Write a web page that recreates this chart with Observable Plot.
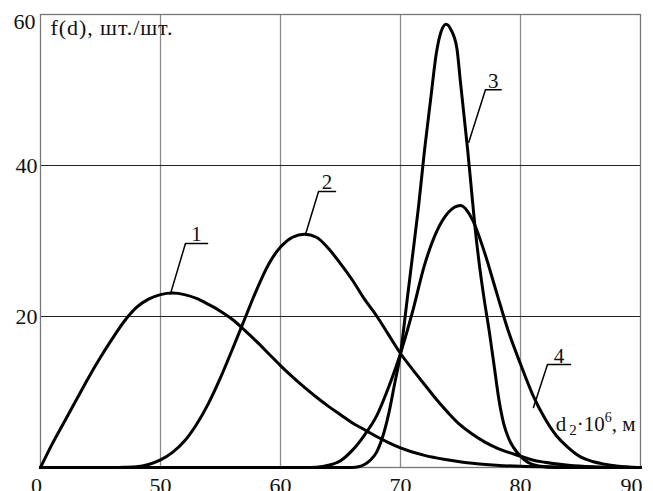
<!DOCTYPE html>
<html><head><meta charset="utf-8">
<script src="https://cdn.jsdelivr.net/npm/d3@7"></script>
<script src="https://cdn.jsdelivr.net/npm/@observablehq/plot@0.6"></script>
<style>body{margin:0;background:#fff} svg{display:block}</style>
</head><body><div id="chart"></div>
<script>
// ---- data ----
const d1 = [40,41,42,43,44,45,46,47,48,49,50,51,52,53,54,55,56,57,58,59,60,61,62,63,64,65,66,67,68,69,70,72,74,76,78,80,83,86,90];
const f1 = [0,3.2,6.1,9.0,11.9,14.6,17.1,19.4,21.2,22.3,22.9,23.1,22.9,22.4,21.6,20.7,19.6,18.2,16.7,15.1,13.5,12.0,10.6,9.3,8.1,7.0,5.9,5.0,4.1,3.3,2.6,1.6,1.0,0.55,0.3,0.15,0.07,0.02,0];

const d2 = [40,46,47,48,49,50,51,52,53,54,55,56,57,58,59,60,61,62,63,64,65,66,67,68,69,70,71,72,73,74,75,76,77,78,79,80,81,82,84,86,88,90];
const f2 = [0,0,0.03,0.1,0.4,1.0,2.0,3.5,5.7,8.5,11.9,15.7,19.6,23.5,26.9,29.2,30.5,30.9,30.5,29.0,27.0,24.8,22.3,20.1,17.6,15.1,13.0,11.0,9.0,7.2,5.6,4.4,3.4,2.6,2.0,1.5,1.0,0.7,0.3,0.1,0.03,0];

const d3v = [40,66,66.5,67,67.5,68,68.5,69,69.5,70,70.5,71,71.5,72,72.5,73,73.4,73.8,74.2,74.7,75,75.3,75.6,75.9,76.2,76.6,77,77.4,77.8,78.2,78.6,79,79.4,80,80.6,81.5,83,90];
const f3 = [0,0,0.1,0.4,1.0,2.0,4.0,7.0,11.0,15.1,21.5,28,34.5,42,48.6,55,57.8,58.7,58.0,55.5,51,46.5,42,37,32,26.5,22,18,13.5,9,5.8,3.9,2.7,1.5,0.7,0.2,0,0];

const d4 = [40,62,63,64,65,66,67,68,69,70,71,72,73,74,75,76,77,78,79,80,81,82,83,84,85,86,87,88,89,90];
const f4 = [0,0,0.05,0.3,0.9,2.3,4.3,6.8,10.6,15.1,20.6,26.8,31.2,33.8,34.7,32.8,28.5,23.2,18.0,13.7,9.7,6.6,4.2,2.6,1.4,0.8,0.45,0.2,0.07,0];

const curveIds = ["1","2","3","4"];

// curve labels: leader attach point, shelf start/end (data units)
const attachD = [50.83, 62.08, 75.69, 81.08];
const attachF = [23.0, 30.86, 43.09, 7.95];
const shelfD0 = [52.08, 63.17, 77.08, 82.25];
const shelfD1 = [53.92, 64.58, 78.39, 84.17];
const shelfF  = [29.67, 36.56, 50.03, 13.64];

// ticks
const xTicks = [40,50,60,70,80,90];
const xTickLabels = ["0","50","60","70","80","90"];
const yTicks = [20,40,60];
const yTickLabels = ["20","40","60"];

const yTitle = "f(d), шт./шт.";
const xTitleParts = ["d","2","·10","6",", м"];

// ---- build tables ----
const rows = [];
[[d1,f1],[d2,f2],[d3v,f3],[d4,f4]].forEach(([ds,fs],k)=>
  ds.forEach((d,i)=>rows.push({curve: curveIds[k], d, f: fs[i]})));
const leaders = curveIds.flatMap((id,i)=>[
  {id, d: attachD[i], f: attachF[i]},
  {id, d: shelfD0[i], f: shelfF[i]},
  {id, d: shelfD1[i], f: shelfF[i]}
]);
const labels = curveIds.map((id,i)=>({id, d:(shelfD0[i]+shelfD1[i])/2, f: shelfF[i]}));
const xFmt = new Map(xTicks.map((t,i)=>[t,xTickLabels[i]]));
const yFmt = new Map(yTicks.map((t,i)=>[t,yTickLabels[i]]));
const xTitle = xTitleParts.join("");

const font = "'Liberation Serif', 'Times New Roman', serif";

const plot = Plot.plot({
  width: 653, height: 491,
  marginLeft: 40, marginRight: 13, marginTop: 14, marginBottom: 24,
  style: {fontFamily: font, fontSize: "22px", color: "#111", background: "white", overflow: "visible"},
  x: {domain: [40, 90]},
  y: {domain: [0, 60]},
  marks: [
    Plot.gridX(xTicks.slice(1,-1), {stroke: "#8a8a8a", strokeOpacity: 1, strokeWidth: 1.3}),
    Plot.gridY(yTicks.slice(0,-1), {stroke: "#222", strokeOpacity: 1, strokeWidth: 1}),
    Plot.frame({stroke: "#777", strokeWidth: 1.3}),
    Plot.axisY(yTicks.slice(0,-1), {tickSize: 0, tickPadding: 3, tickFormat: d=>yFmt.get(d), label: null, fontSize: 22}),
    Plot.axisY(yTicks.slice(-1), {tickSize: 0, tickPadding: 5, dy: 7, tickFormat: d=>yFmt.get(d), label: null, fontSize: 22}),
    Plot.axisX(xTicks.slice(1,-1), {tickSize: 0, tickPadding: 10, tickFormat: d=>xFmt.get(d), label: null, fontSize: 22}),
    Plot.axisX(xTicks.slice(0,1), {tickSize: 0, tickPadding: 10, dx: -4, tickFormat: d=>xFmt.get(d), label: null, fontSize: 22}),
    Plot.axisX(xTicks.slice(-1), {tickSize: 0, tickPadding: 10, dx: -9, tickFormat: d=>xFmt.get(d), label: null, fontSize: 22}),
    Plot.line(rows, {x: "d", y: "f", z: "curve", stroke: "#000", strokeWidth: 3, curve: "monotone-x"}),
    Plot.line(leaders, {x: "d", y: "f", z: "id", stroke: "#000", strokeWidth: 1.5}),
    Plot.text(labels, {x: "d", y: "f", text: "id", lineAnchor: "bottom", dy: -2, fontSize: 21, fill: "#111"}),
    Plot.text([yTitle], {frameAnchor: "top-left", dx: 10, dy: 5, lineAnchor: "top", textAnchor: "start", fontSize: 22, fill: "#111"}),
    Plot.text([xTitle], {frameAnchor: "bottom-right", dx: -5, dy: -37, lineAnchor: "bottom", textAnchor: "end", fontSize: 21, fill: "#111"})
  ]
});

// widen the y title a little (the reference's Cyrillic glyphs are wider)
d3.select(plot).selectAll("text").filter(function(){ return this.textContent === yTitle; })
  .attr("textLength", 122).attr("lengthAdjust", "spacing");

// rich formatting of the x title (subscript / superscript)
d3.select(plot).selectAll("text").filter(function(){ return this.textContent === xTitle; }).each(function(){
  const t = d3.select(this);
  t.text(null);
  t.append("tspan").text(xTitleParts[0]);
  t.append("tspan").attr("font-size", 15).attr("dx", 3).attr("dy", 4).text(xTitleParts[1]);
  t.append("tspan").attr("dy", -4).text(xTitleParts[2]);
  t.append("tspan").attr("font-size", 14).attr("dy", -9).text(xTitleParts[3]);
  t.append("tspan").attr("dy", 9).text(xTitleParts[4]);
});

document.getElementById("chart").appendChild(plot);
</script>
</body></html>
